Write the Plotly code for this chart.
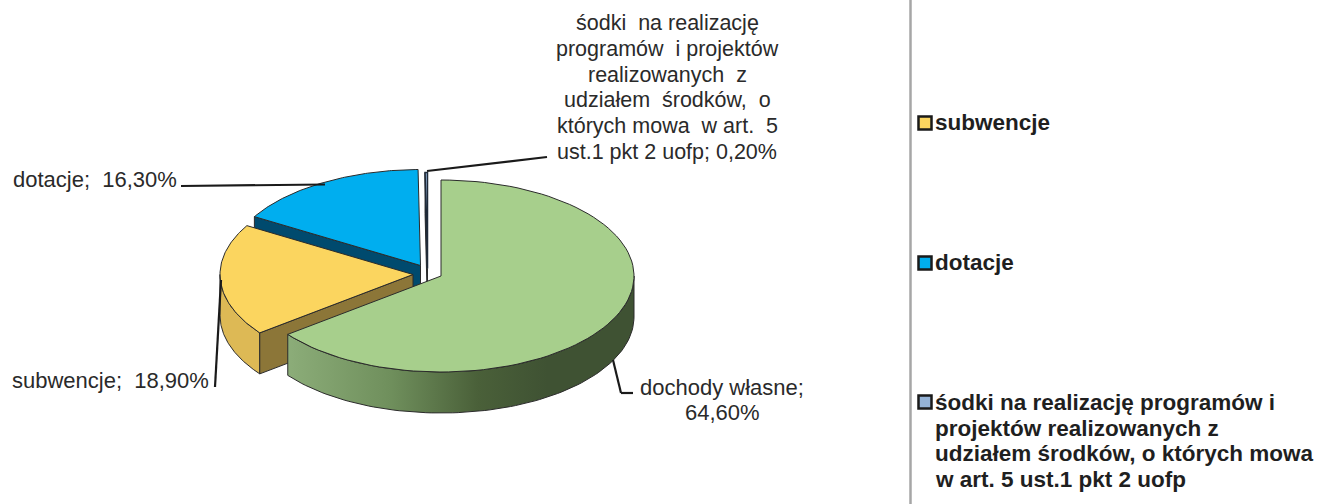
import numpy as np
import plotly.graph_objects as go

categories = ["dochody własne", "subwencje", "dotacje", "śodki na realizację programów i projektów realizowanych z udziałem środków, o których mowa w art. 5 ust.1 pkt 2 uofp"]
values = [64.6, 18.9, 16.3, 0.2]
top_colors = ["#A7CF8C", "#FBD55F", "#00AEEF", "#95B3D7"]
cut_colors = [None, "#8C7638", "#004A6E", "#1F2A38"]
wall_colors = [None, "#DDB955", None, None]
centers = [(441, 276), (413, 274.5), (420.5, 265.5), (427.5, 268.5)]
RX, RY, DEPTH = 193, 96, 41
OUTLINE = "#2B2B2B"

labels = [
    ["dochody własne;", "64,60%"],
    ["subwencje;  18,90%"],
    ["dotacje;  16,30%"],
    ["śodki  na realizację", "programów  i projektów", "realizowanych  z", "udziałem  środków,  o", "których mowa  w art.  5", "ust.1 pkt 2 uofp; 0,20%"],
]
label_pos = [(722, 400, "center", 22), (9.5, 380, "left", 22), (10.5, 179, "left", 22), (667, 87.5, "center", 21.5)]

legend_labels = [["subwencje"], ["dotacje"], ["śodki na realizację programów i", "projektów realizowanych z", "udziałem środków, o których mowa", "w art. 5 ust.1 pkt 2 uofp"]]
legend_colors = ["#FBD55F", "#00AEEF", "#95B3D7"]
legend_marker_y = [123, 263, 402]
legend_text_y = [122, 262, 441]
LEGEND_SIZE = 22.5
LINE_PITCH = 25.8

leaders = [
    [(181, 186), (325, 184.5)],
    [(215, 387), (221, 280)],
    [(613, 360), (621, 393), (633, 393)],
    [(427, 171), (547, 157)],
]

ends = np.cumsum(values) / sum(values) * 360
starts = np.concatenate([[0], ends[:-1]])


def arc(i, a, b, dy=0, n=90):
    t = np.radians(np.linspace(a, b, n))
    cx, cy = centers[i]
    return cx + RX * np.sin(t), cy - RY * np.cos(t) + dy


def poly(xs, ys, color, width=1, line=OUTLINE, **kw):
    return go.Scatter(x=list(xs), y=list(ys), mode="lines", fill="toself", fillcolor=color,
                      line=dict(color=line, width=width), hoverinfo="skip", showlegend=False, **kw)


def top_face(i, **kw):
    x, y = arc(i, starts[i], ends[i])
    cx, cy = centers[i]
    return poly(np.r_[cx, x, cx], np.r_[cy, y, cy], top_colors[i], **kw)


def cut_face(i, angle):
    x, y = arc(i, angle, angle, n=1)
    cx, cy = centers[i]
    return poly([cx, x[0], x[0], cx, cx], [cy, y[0], y[0] + DEPTH, cy + DEPTH, cy], cut_colors[i])


def wall(i, a, b, color, **kw):
    x, y = arc(i, a, b)
    x2, y2 = arc(i, b, a, DEPTH)
    return poly(np.r_[x, x2, x[0]], np.r_[y, y2, y[0]], color, **kw)


fig = go.Figure()
# blue slice
fig.add_trace(cut_face(2, starts[2]))
fig.add_trace(top_face(2))
# thin slice
fig.add_trace(cut_face(3, starts[3]))
fig.add_trace(top_face(3, width=1.5, line="#1F2A38"))
# yellow slice
fig.add_trace(wall(1, starts[1], 270, wall_colors[1]))
fig.add_trace(cut_face(1, starts[1]))
fig.add_trace(top_face(1))
# green slice
fig.add_trace(wall(0, 90, ends[0], "#5F7D4C", fillgradient=dict(
    type="horizontal", start=287, stop=634,
    colorscale=[[0, "#8CAD79"], [0.3, "#6F8F5C"], [0.55, "#4A6039"], [0.75, "#3F5233"], [1, "#3F5233"]])))
fig.add_trace(top_face(0))

# legend squares
fig.add_trace(go.Scatter(x=[925] * 3, y=legend_marker_y, mode="markers", hoverinfo="skip", showlegend=False,
                         marker=dict(symbol="square", size=13, color=legend_colors,
                                     line=dict(color="#1A1A1A", width=2.5))))

shapes = [dict(type="line", x0=910.5, x1=910.5, y0=0, y1=504, line=dict(color="#A6A6A6", width=2.5))]
for pts in leaders:
    for p, q in zip(pts[:-1], pts[1:]):
        shapes.append(dict(type="line", x0=p[0], y0=p[1], x1=q[0], y1=q[1], line=dict(color="#1A1A1A", width=2.2)))

ann = []
for lines, (x, y, al, size) in zip(labels, label_pos):
    for k, text in enumerate(lines):
        ann.append(dict(x=x, y=y + (k - (len(lines) - 1) / 2) * LINE_PITCH, text=text, showarrow=False,
                        xanchor=al, yanchor="middle",
                        font=dict(family="Liberation Sans", size=size, color="#2A2A2A")))
for lines, y in zip(legend_labels, legend_text_y):
    for k, text in enumerate(lines):
        ann.append(dict(x=932.5, y=y + (k - (len(lines) - 1) / 2) * LINE_PITCH, text=text, showarrow=False,
                        xanchor="left", yanchor="middle",
                        font=dict(family="Liberation Sans", size=LEGEND_SIZE, color="#1F1F1F", weight="bold")))

fig.update_layout(
    width=1319, height=504, margin=dict(l=0, r=0, t=0, b=0),
    paper_bgcolor="white", plot_bgcolor="white", showlegend=False,
    xaxis=dict(range=[0, 1319], visible=False, fixedrange=True),
    yaxis=dict(range=[504, 0], visible=False, fixedrange=True),
    shapes=shapes, annotations=ann,
)
fig.write_html("out.html", config=dict(displayModeBar=False),
               post_script="document.body.style.margin='0';document.body.style.overflow='hidden';")
